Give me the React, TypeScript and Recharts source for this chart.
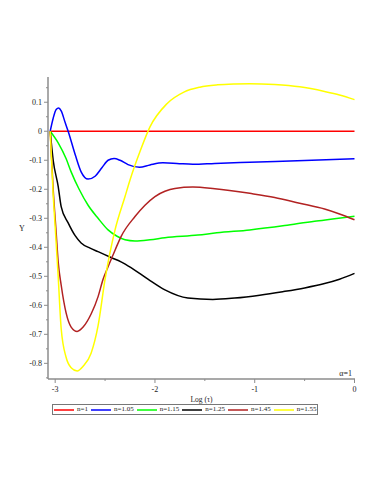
import { LineChart, Line, XAxis, YAxis, Legend, Label, ReferenceLine } from "recharts";

const xDomain = [-3.072, 0.005];
const yDomain = [-0.854, 0.187];

const xTicks = [-3, -2.5, -2, -1.5, -1, -0.5, 0];
const xLabels = ["-3", "", "-2", "", "-1", "", "0"];
const yTicks = [-0.85, -0.8, -0.75, -0.7, -0.65, -0.6, -0.55, -0.5, -0.45, -0.4, -0.35, -0.3, -0.25, -0.2, -0.15, -0.1, -0.05, 0, 0.05, 0.1, 0.15];
const yLabels = ["", "-0.8", "", "-0.7", "", "-0.6", "", "-0.5", "", "-0.4", "", "-0.3", "", "-0.2", "", "-0.1", "", "0", "", "0.1", ""];

const redX = [-3.05, 0];
const redY = [0, 0];

const blueX = [-3.05, -3.02, -2.99, -2.965, -2.94, -2.9, -2.87, -2.8, -2.74, -2.67, -2.6, -2.53, -2.47, -2.41, -2.35, -2.27, -2.155, -2.05, -1.92, -1.78, -1.62, -1.4, -1.05, -0.5, 0];
const blueY = [0, 0.045, 0.075, 0.08, 0.07, 0.03, 0, -0.08, -0.14, -0.165, -0.155, -0.125, -0.1, -0.094, -0.1, -0.115, -0.124, -0.116, -0.109, -0.111, -0.114, -0.111, -0.107, -0.101, -0.095];

const greenX = [-3.05, -2.97, -2.89, -2.84, -2.76, -2.67, -2.57, -2.47, -2.38, -2.3, -2.2, -2.05, -1.9, -1.57, -1.38, -1.05, -0.7, -0.4, -0.2, 0];
const greenY = [0, -0.04, -0.095, -0.14, -0.2, -0.255, -0.3, -0.34, -0.362, -0.374, -0.378, -0.374, -0.367, -0.358, -0.35, -0.34, -0.325, -0.31, -0.302, -0.293];

const blackX = [-3.05, -3.02, -2.97, -2.94, -2.87, -2.8, -2.74, -2.65, -2.57, -2.44, -2.34, -2.24, -2.07, -1.9, -1.67, -1.42, -1.2, -0.95, -0.72, -0.5, -0.3, -0.15, 0];
const blackY = [0, -0.1, -0.19, -0.26, -0.316, -0.36, -0.385, -0.403, -0.415, -0.435, -0.45, -0.47, -0.51, -0.547, -0.575, -0.58, -0.575, -0.565, -0.553, -0.54, -0.525, -0.51, -0.49];

const brownX = [-3.05, -3.02, -2.99, -2.97, -2.94, -2.89, -2.84, -2.78, -2.72, -2.64, -2.57, -2.52, -2.47, -2.4, -2.34, -2.2, -2.1, -2.0, -1.9, -1.8, -1.62, -1.4, -1.05, -0.8, -0.55, -0.3, -0.15, 0];
const brownY = [0, -0.2, -0.35, -0.45, -0.53, -0.627, -0.675, -0.69, -0.675, -0.63, -0.57, -0.51, -0.467, -0.41, -0.363, -0.294, -0.255, -0.225, -0.207, -0.197, -0.192, -0.198, -0.214, -0.228, -0.248, -0.268, -0.285, -0.305];

const yellowX = [-3.05, -3.02, -3.0, -2.97, -2.94, -2.89, -2.84, -2.78, -2.72, -2.64, -2.57, -2.5, -2.4, -2.3, -2.25, -2.15, -2.05, -1.88, -1.71, -1.55, -1.37, -1.2, -1.05, -0.8, -0.55, -0.3, -0.15, 0];
const yellowY = [0, -0.22, -0.33, -0.5, -0.68, -0.78, -0.815, -0.826, -0.81, -0.765, -0.67, -0.51, -0.34, -0.225, -0.168, -0.07, 0.015, 0.095, 0.135, 0.152, 0.16, 0.163, 0.164, 0.161, 0.153, 0.137, 0.125, 0.109];

const seriesNames = ["n=1", "n=1.05", "n=1.15", "n=1.25", "n=1.45", "n=1.55"];
const seriesColors = ["#ff0000", "#0000ff", "#00ff00", "#000000", "#b22222", "#ffff00"];
const seriesXs = [redX, blueX, greenX, blackX, brownX, yellowX];
const seriesYs = [redY, blueY, greenY, blackY, brownY, yellowY];

const seriesData = seriesXs.map((xs, i) => xs.map((x, j) => ({ x, y: seriesYs[i][j] })));

const FONT = "'Liberation Serif', 'DejaVu Serif', serif";
const AXIS = "#8c8c8c";
const TEXT = "#222";

const findLabel = (ticks: number[], labels: string[], v: number) => {
  const idx = ticks.findIndex((t) => Math.abs(t - v) < 1e-6);
  return idx >= 0 ? labels[idx] : "";
};

const YTick = (props: any) => {
  const { x, y, payload } = props;
  const label = findLabel(yTicks, yLabels, payload.value);
  const len = label ? 4 : 2;
  return (
    <g>
      <line x1={x - len} x2={x} y1={y} y2={y} stroke={AXIS} strokeWidth={1} />
      {label && (
        <text x={x - 6} y={y + 3} textAnchor="end" fontSize={8} fill={TEXT} fontFamily={FONT}>
          {label}
        </text>
      )}
    </g>
  );
};

const XTick = (props: any) => {
  const { x, y, payload } = props;
  const label = findLabel(xTicks, xLabels, payload.value);
  const len = label ? 4 : 2;
  return (
    <g>
      <line x1={x} x2={x} y1={y} y2={y + len} stroke={AXIS} strokeWidth={1} />
      {label && (
        <text x={x} y={y + 13} textAnchor="middle" fontSize={8} fill={TEXT} fontFamily={FONT}>
          {label}
        </text>
      )}
    </g>
  );
};

const LegendBox = () => (
  <div
    style={{
      border: "1px solid #777",
      height: 9,
      width: "fit-content",
      display: "flex",
      alignItems: "center",
      paddingLeft: 1,
      paddingRight: 1,
      fontFamily: FONT,
      fontSize: 7,
      lineHeight: "9px",
      color: TEXT,
      boxSizing: "content-box",
      whiteSpace: "nowrap",
    }}
  >
    {seriesNames.map((name, i) => (
      <div key={name} style={{ display: "flex", alignItems: "center", marginRight: i < seriesNames.length - 1 ? 3 : 0 }}>
        <svg width={20} height={4} style={{ marginRight: 3, display: "block" }}>
          <line x1={0} x2={20} y1={2} y2={2} stroke={seriesColors[i]} strokeWidth={1.5} />
        </svg>
        <span>{name}</span>
      </div>
    ))}
  </div>
);

export default function App() {
  return (
    <div style={{ position: "absolute", left: 0, top: 0, background: "#fff" }}>
      <LineChart width={383} height={495} margin={{ top: 77, right: 28, bottom: 89, left: 8 }}>
        <XAxis
          dataKey="x"
          type="number"
          domain={xDomain}
          ticks={xTicks}
          interval={0}
          allowDataOverflow
          tickSize={0}
          tickMargin={0}
          tick={<XTick />}
          height={27}
          stroke={AXIS}
          strokeWidth={1.5}
        >
          <Label value="Log (τ)" position="insideBottom" offset={4} fontSize={7.5} fill={TEXT} fontFamily={FONT} />
        </XAxis>
        <XAxis xAxisId="top" orientation="top" type="number" domain={xDomain} height={0} tick={false} tickLine={false} stroke={AXIS} strokeWidth={1.5} />
        <YAxis
          type="number"
          domain={yDomain}
          ticks={yTicks}
          interval={0}
          allowDataOverflow
          tickSize={0}
          tickMargin={0}
          tick={<YTick />}
          width={40}
          stroke={AXIS}
          strokeWidth={1.5}
        >
          <Label value="Y" position="insideLeft" offset={11} fontSize={8} fill={TEXT} fontFamily={FONT} />
        </YAxis>
        <YAxis yAxisId="right" orientation="right" type="number" domain={yDomain} width={0} tick={false} tickLine={false} stroke={AXIS} strokeWidth={1.5} />
        <ReferenceLine y={yDomain[0]} stroke="none">
          <Label value="α=1" position="insideBottomRight" offset={3} fontSize={8} fill={TEXT} fontFamily={FONT} />
        </ReferenceLine>
        <Legend
          layout="horizontal"
          verticalAlign="middle"
          align="center"
          wrapperStyle={{ left: 52, top: 404, width: 280, lineHeight: "9px" }}
          content={<LegendBox />}
        />
        {seriesNames.map((name, i) => (
          <Line
            key={name}
            name={name}
            data={seriesData[i]}
            dataKey="y"
            type="monotone"
            stroke={seriesColors[i]}
            strokeWidth={1.5}
            dot={false}
            isAnimationActive={false}
          />
        ))}
      </LineChart>
    </div>
  );
}
